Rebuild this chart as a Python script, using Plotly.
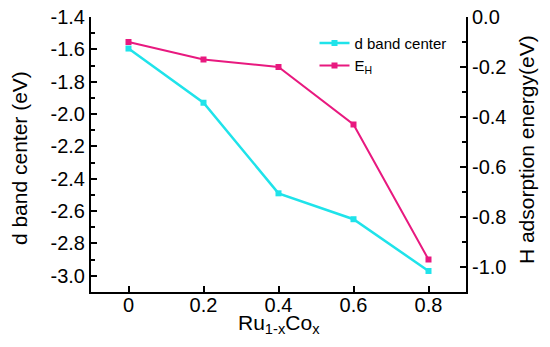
import plotly.graph_objects as go

x_vals = [0, 0.2, 0.4, 0.6, 0.8]
x_ticktext = ["0", "0.2", "0.4", "0.6", "0.8"]
y_left_ticks = [-3.0, -2.8, -2.6, -2.4, -2.2, -2.0, -1.8, -1.6, -1.4]
y_left_text = ["-3.0", "-2.8", "-2.6", "-2.4", "-2.2", "-2.0", "-1.8", "-1.6", "-1.4"]
y_right_ticks = [-1.0, -0.8, -0.6, -0.4, -0.2, 0.0]
y_right_text = ["-1.0", "-0.8", "-0.6", "-0.4", "-0.2", "0.0"]
d_band_center = [-1.595, -1.93, -2.49, -2.65, -2.97]
e_h = [-0.10, -0.17, -0.20, -0.43, -0.97]

cyan = "#1fe3ea"
pink = "#e8197f"
font = "Liberation Sans, Arial, sans-serif"

fig = go.Figure()
fig.add_trace(go.Scatter(x=x_vals, y=d_band_center, name="d band center", mode="lines+markers",
                         line=dict(color=cyan, width=2.5), marker=dict(symbol="square", size=6, color=cyan)))
fig.add_trace(go.Scatter(x=x_vals, y=e_h, name="E<sub>H</sub>", mode="lines+markers", yaxis="y2",
                         line=dict(color=pink, width=2), marker=dict(symbol="square", size=6, color=pink)))

axis_common = dict(showline=True, linecolor="black", linewidth=2, ticks="inside", ticklen=6, tickwidth=1.5,
                   tickcolor="black", showgrid=False, zeroline=False, mirror=False, automargin=False,
                   tickfont=dict(family=font, size=20, color="black"))

fig.update_layout(
    width=550, height=347,
    margin=dict(l=91, r=84, t=17, b=55, autoexpand=False),
    paper_bgcolor="white", plot_bgcolor="white",
    font=dict(family=font, color="black"),
    xaxis=dict(range=[-0.1, 0.9], tickvals=x_vals, ticktext=x_ticktext, ticklabelstandoff=-6, **axis_common),
    yaxis=dict(range=[-3.1, -1.4], tickvals=y_left_ticks, ticktext=y_left_text,
               minor=dict(ticks="inside", dtick=0.1, ticklen=4, tickcolor="black"),
               **axis_common),
    yaxis2=dict(range=[-1.1, 0.0], tickvals=y_right_ticks, ticktext=y_right_text, overlaying="y", side="right",
                minor=dict(ticks="inside", dtick=0.1, ticklen=4, tickcolor="black"),
                **axis_common),
    legend=dict(x=0.596, y=0.965, xanchor="left", yanchor="top", bgcolor="rgba(0,0,0,0)",
                font=dict(size=15, family=font), tracegroupgap=0, itemwidth=30),
    showlegend=True,
    annotations=[
        dict(text="Ru<sub>1-x</sub>Co<sub>x</sub>", xref="paper", yref="paper", x=0.5, y=-0.118,
             xanchor="center", yanchor="middle", showarrow=False, font=dict(size=21, family=font)),
        dict(text="d band center (eV)", xref="paper", yref="paper", x=-0.192, y=0.487, textangle=-90,
             xanchor="center", yanchor="middle", showarrow=False, font=dict(size=21, family=font)),
        dict(text="H adsorption energy(eV)", xref="paper", yref="paper", x=1.16, y=0.516, textangle=-90,
             xanchor="center", yanchor="middle", showarrow=False, font=dict(size=21, family=font)),
    ],
)

fig.write_html("out.html", config={"displayModeBar": False},
               post_script="document.body.style.margin='0';")
